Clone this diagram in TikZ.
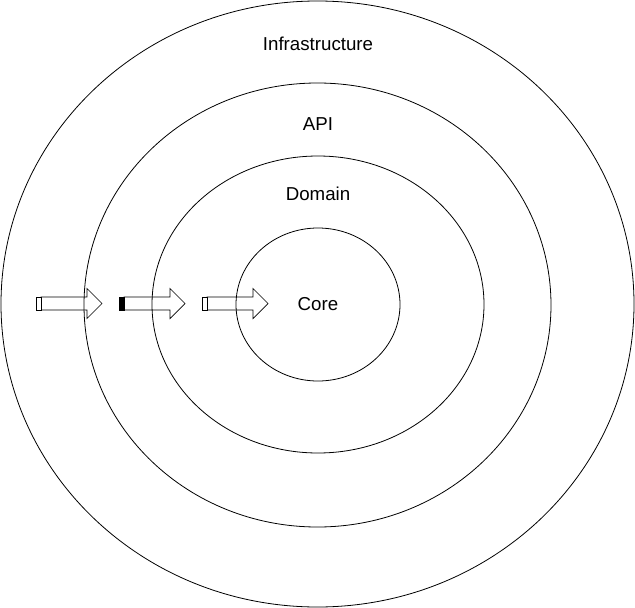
\documentclass[tikz,border=0pt]{standalone}
\usepackage{fontspec}
\setmainfont{Liberation Sans}
\usetikzlibrary{positioning,shapes.geometric}

\tikzset{
  ring/.style={draw, ellipse, line width=0.8pt, inner sep=0pt},
  layer/.style={font=\fontsize{18.7}{22}\selectfont},
  pics/fat arrow/.style={code={
    \draw[line width=0.7pt] (5,-6.5) -- (51,-6.5) -- (51,-15) -- (66,0)
      -- (51,15) -- (51,6.5) -- (5,6.5) -- cycle;
    \draw[line width=0.7pt, fill=#1] (0,-6.5) rectangle (5,6.5);
  }}
}

\begin{document}
\begin{tikzpicture}[x=1pt, y=-1pt]
  \useasboundingbox (0,0) rectangle (635,608);
  % Rings
  \node[ring, minimum width=633pt, minimum height=606pt] (infra)  at (317.5,304) {};
  \node[ring, minimum width=467pt, minimum height=444pt] (api)    at (317.5,305) {};
  \node[ring, minimum width=332pt, minimum height=297pt] (domain) at (318,304.5) {};
  \node[ring, minimum width=164pt, minimum height=153pt] (core)   at (318,304.5) {};
  % Labels
  \node[layer] (infralabel)  at (318,44)  {Infrastructure};
  \node[layer] (apilabel)    at (318,124) {API};
  \node[layer] (domainlabel) at (318,194) {Domain};
  \node[layer] (corelabel)   at (318,304) {Core};
  % Arrows
  \pic (arrowa) at (36,303.5)  {fat arrow=white};
  \pic (arrowb) at (119,303.5) {fat arrow=black};
  \pic (arrowc) at (202,303.5) {fat arrow=white};
\end{tikzpicture}
\end{document}
